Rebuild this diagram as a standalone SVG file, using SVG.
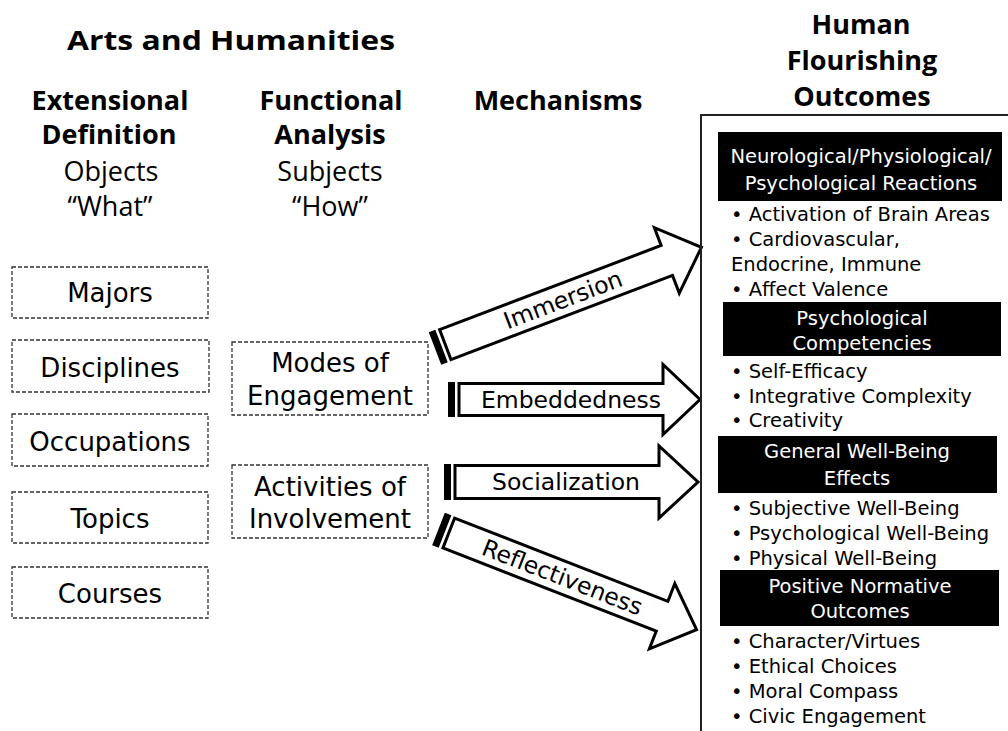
<svg xmlns="http://www.w3.org/2000/svg" width="1008" height="731" viewBox="0 0 1008 731">
<style>
.hdr{font-family:"Open Sans","Liberation Sans",sans-serif;font-weight:bold;font-size:27px;text-anchor:middle;fill:#000}
.sub{font-family:"Open Sans","Liberation Sans",sans-serif;font-size:27px;text-anchor:middle;fill:#000}
.box{fill:#fff;stroke:#333;stroke-width:1.3;stroke-dasharray:4 2}
.lbl{font-family:"DejaVu Sans",sans-serif;font-size:26px;text-anchor:middle;fill:#000}
.arr{fill:#fff;stroke:#000;stroke-width:3;stroke-linejoin:miter}
.stripe{fill:#000}
.alb{font-family:"DejaVu Sans",sans-serif;font-size:23.5px;text-anchor:middle;fill:#000}
.hb{fill:#000}
.ht{font-family:"DejaVu Sans",sans-serif;font-size:19.5px;text-anchor:middle;fill:#fff}
.it{font-family:"DejaVu Sans",sans-serif;font-size:19.5px;fill:#000}
</style>
<rect x="0" y="0" width="1008" height="731" fill="#fff"/>

<g id="headers">
<text class="hdr" x="231" y="50" font-size="34" textLength="328" lengthAdjust="spacingAndGlyphs">Arts and Humanities</text>
<text class="hdr" x="110" y="110">Extensional</text>
<text class="hdr" x="109" y="144">Definition</text>
<text class="sub" x="111" y="181">Objects</text>
<text class="sub" x="110" y="216">“What”</text>
<text class="hdr" x="331" y="110">Functional</text>
<text class="hdr" x="330" y="144">Analysis</text>
<text class="sub" x="330" y="181">Subjects</text>
<text class="sub" x="330" y="216">“How”</text>
<text class="hdr" x="558" y="110">Mechanisms</text>
<text class="hdr" x="861" y="34">Human</text>
<text class="hdr" x="862" y="70">Flourishing</text>
<text class="hdr" x="862" y="106">Outcomes</text>
</g>

<g id="majors"><rect class="box" x="12" y="267" width="196" height="51"/><text class="lbl" x="110" y="302">Majors</text></g>
<g id="disciplines"><rect class="box" x="12" y="340" width="197" height="52"/><text class="lbl" x="110" y="377">Disciplines</text></g>
<g id="occupations"><rect class="box" x="12" y="414" width="196" height="52"/><text class="lbl" x="110" y="451">Occupations</text></g>
<g id="topics"><rect class="box" x="12" y="492" width="196" height="51"/><text class="lbl" x="110" y="528">Topics</text></g>
<g id="courses"><rect class="box" x="12" y="567" width="196" height="51"/><text class="lbl" x="110" y="603">Courses</text></g>

<g id="modes"><rect class="box" x="232" y="342" width="196" height="73"/><text class="lbl" x="330" y="372">Modes of</text><text class="lbl" x="330" y="405">Engagement</text></g>
<g id="activities"><rect class="box" x="232" y="465" width="196" height="73"/><text class="lbl" x="330" y="496">Activities of</text><text class="lbl" x="330" y="528">Involvement</text></g>

<g id="connectors">
<g id="immersion" transform="translate(435,348.5) rotate(-20.8)">
<rect class="stripe" x="0" y="-17.5" width="7" height="35"/>
<polygon class="arr" points="11,-16 248,-16 248,-35 285,0 248,35 248,16 11,16"/>
<text class="alb" x="137" y="8">Immersion</text>
</g>
<g id="embeddedness" transform="translate(448,399.5)">
<rect class="stripe" x="0" y="-17.5" width="7" height="35"/>
<polygon class="arr" points="11,-16 215,-16 215,-35 252,0 215,35 215,16 11,16"/>
<text class="alb" x="123" y="8">Embeddedness</text>
</g>
<g id="socialization" transform="translate(444,482)">
<rect class="stripe" x="0" y="-18" width="7" height="36"/>
<polygon class="arr" points="11,-16.5 215,-16.5 215,-36 254,0 215,36 215,16.5 11,16.5"/>
<text class="alb" x="122" y="8">Socialization</text>
</g>
<g id="reflectiveness" transform="translate(438.5,529) rotate(21.3)">
<rect class="stripe" x="0" y="-17.5" width="7" height="35"/>
<polygon class="arr" points="11,-16 240,-16 240,-35 277,0 240,35 240,16 11,16"/>
<text class="alb" x="133" y="8">Reflectiveness</text>
</g>
</g>

<g id="outcomes">
<path d="M701,740 V115 H1012" fill="none" stroke="#222" stroke-width="2"/>
<g id="neuro">
<rect class="hb" x="718" y="132" width="284" height="69"/>
<text class="ht" x="861" y="163">Neurological/Physiological/</text>
<text class="ht" x="861" y="190">Psychological Reactions</text>
<text class="it" x="731" y="221">• Activation of Brain Areas</text>
<text class="it" x="731" y="246">• Cardiovascular,</text>
<text class="it" x="731" y="271">Endocrine, Immune</text>
<text class="it" x="731" y="296">• Affect Valence</text>
</g>
<g id="competencies">
<rect class="hb" x="723" y="302" width="278" height="54"/>
<text class="ht" x="862" y="325">Psychological</text>
<text class="ht" x="862" y="350">Competencies</text>
<text class="it" x="731" y="378">• Self-Efficacy</text>
<text class="it" x="731" y="403">• Integrative Complexity</text>
<text class="it" x="731" y="427">• Creativity</text>
</g>
<g id="wellbeing">
<rect class="hb" x="718" y="436" width="279" height="57"/>
<text class="ht" x="857" y="458">General Well-Being</text>
<text class="ht" x="857" y="485">Effects</text>
<text class="it" x="731" y="515">• Subjective Well-Being</text>
<text class="it" x="731" y="540">• Psychological Well-Being</text>
<text class="it" x="731" y="565">• Physical Well-Being</text>
</g>
<g id="normative">
<rect class="hb" x="720" y="570" width="279" height="56"/>
<text class="ht" x="860" y="593">Positive Normative</text>
<text class="ht" x="860" y="618">Outcomes</text>
<text class="it" x="731" y="648">• Character/Virtues</text>
<text class="it" x="731" y="673">• Ethical Choices</text>
<text class="it" x="731" y="698">• Moral Compass</text>
<text class="it" x="731" y="723">• Civic Engagement</text>
</g>
</g>
</svg>
